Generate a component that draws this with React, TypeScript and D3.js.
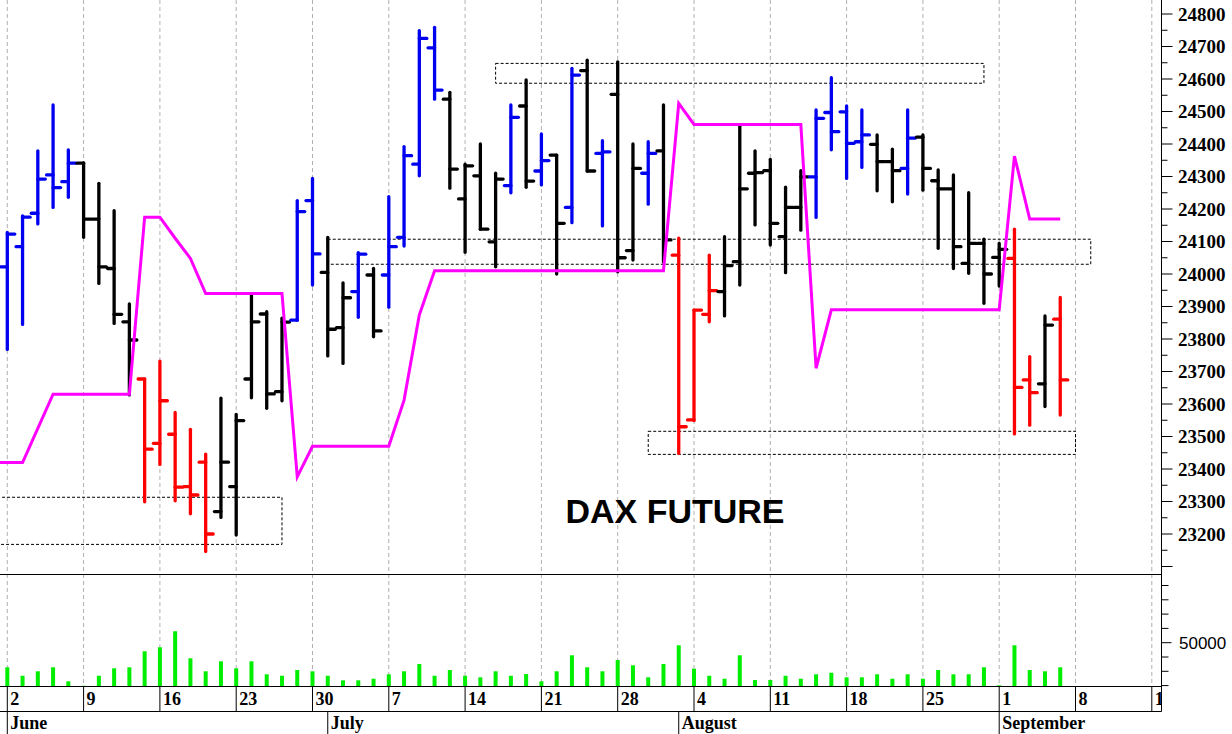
import React from "react";
import * as d3 from "d3";

const W = 1232;
const H = 734;

// Daily OHLC, trading days Jun 2 – Sep 5 (index 0 = Mon Jun 2)
const opens = [24022, 24084, 24187, 24305, 24284, 24341, 24169, 24017, 23853, 23677, 23479, 23507, 23346, 23421, 23269, 23346, 23677, 23877, 23638, 23858, 24226, 24005, 23835, 23946, 23997, 23997, 24113, 24338, 24696, 24538, 24231, 24302, 24099, 24272, 24517, 24317, 24366, 24205, 24626, 24371, 24553, 24072, 24310, 24379, 24058, 23551, 23876, 23946, 24038, 24310, 24318, 24115, 24205, 24299, 24497, 24499, 24407, 24399, 24346, 24325, 24421, 24287, 24262, 24033, 24094, 24051, 24048, 23674, 23662, 23861];
const highs = [24128, 24179, 24379, 24520, 24382, 24342, 24279, 24195, 23908, 23677, 23732, 23574, 23522, 23446, 23618, 23568, 23938, 23884, 23864, 24226, 24294, 24113, 23973, 24066, 24017, 24238, 24392, 24749, 24759, 24559, 24338, 24400, 24310, 24520, 24597, 24431, 24366, 24633, 24658, 24410, 24653, 24400, 24407, 24520, 24110, 23889, 24058, 24115, 24455, 24379, 24353, 24267, 24318, 24505, 24604, 24517, 24505, 24428, 24384, 24505, 24428, 24320, 24305, 24250, 24107, 24094, 24138, 23746, 23871, 23928];
const lows = [23768, 23845, 24154, 24205, 24236, 24113, 23971, 23848, 23628, 23299, 23414, 23302, 23262, 23146, 23251, 23197, 23619, 23587, 23610, 23858, 23966, 23748, 23725, 23867, 23807, 23898, 24086, 24302, 24538, 24264, 24067, 24138, 24022, 24250, 24267, 24274, 24000, 24158, 24317, 24148, 24007, 24043, 24215, 24037, 23448, 23549, 23853, 23871, 23966, 24151, 24089, 24004, 24135, 24174, 24382, 24294, 24328, 24256, 24222, 24246, 24258, 24079, 24017, 24002, 23910, 23963, 23508, 23535, 23592, 23566];
const closes = [24123, 24175, 24292, 24266, 24341, 24169, 24022, 23876, 23797, 23461, 23610, 23344, 23320, 23200, 23421, 23549, 23853, 23631, 23852, 24192, 24062, 23830, 23927, 24061, 23825, 24084, 24364, 24725, 24566, 24323, 24333, 24138, 24292, 24482, 24286, 24349, 24156, 24612, 24317, 24376, 24050, 24325, 24371, 24105, 23530, 23889, 23949, 24026, 24262, 24312, 24156, 24205, 24299, 24479, 24438, 24402, 24428, 24346, 24318, 24418, 24325, 24262, 24084, 24094, 24000, 24076, 23651, 23635, 23843, 23674];
// b = blue, k = black, r = red
const barColors = ["b","b","b","b","b","k","k","k","k","r","r","r","r","r","k","k","k","k","k","b","b","k","k","b","k","b","b","b","b","k","k","k","k","b","k","b","k","b","k","b","k","k","b","k","r","r","r","k","k","k","k","k","k","b","b","b","b","k","k","b","k","k","k","k","k","k","r","r","k","r"];
const volumes = [32800, 26900, 30000, 32800, 23000, 19900, 26900, 32100, 32800, 44000, 46800, 58000, 39100, 30000, 37000, 32100, 37000, 27900, 26900, 30900, 30000, 26900, 23700, 23700, 24800, 27900, 30000, 35100, 26900, 30900, 26900, 25800, 30000, 26900, 28100, 23000, 30000, 41200, 32800, 30000, 37900, 34200, 25800, 35100, 48200, 31800, 26900, 24800, 41200, 23900, 23900, 26900, 24800, 27900, 29000, 25800, 25800, 27900, 24800, 27900, 24800, 30900, 27900, 27900, 32800, 20200, 48200, 30900, 30000, 32800];
// magenta stop line (value for the day before index 0, then one per bar)
const magentaPrev = 23420;
const magenta = [23420, 23420, 23525, 23630, 23630, 23630, 23630, 23630, 23630, 24175, 24175, 24110, 24048, 23940, 23940, 23940, 23940, 23940, 23940, 23376, 23470, 23470, 23470, 23470, 23470, 23470, 23612, 23874, 24010, 24010, 24010, 24010, 24010, 24010, 24010, 24010, 24010, 24010, 24010, 24010, 24010, 24010, 24010, 24010, 24525, 24460, 24460, 24460, 24460, 24460, 24460, 24460, 24460, 23710, 23890, 23890, 23890, 23890, 23890, 23890, 23890, 23890, 23890, 23890, 23890, 23890, 24363, 24169, 24169, 24169];

// dotted zones (bar index from/to, price top/bottom)
const boxFrom = [-1, 32, 21, 42];
const boxTo = [18, 64, 71, 70];
const boxTop = [23313, 24648, 24107, 23516];
const boxBottom = [23168, 24587, 24030, 23445];

const weekLabels = ["2", "9", "16", "23", "30", "7", "14", "21", "28", "4", "11", "18", "25", "1", "8", "15"];
const monthLabels = ["June", "July", "August", "September"];
const monthStart = [0, 21, 44, 65];
const priceLabelValues = [23200, 23300, 23400, 23500, 23600, 23700, 23800, 23900, 24000, 24100, 24200, 24300, 24400, 24500, 24600, 24700, 24800];

const colorMap: Record<string, string> = { b: "#0000f0", k: "#000000", r: "#ff0000" };

export default function App() {
  const axisX = 1161.5;
  const priceBottom = 574.5;
  const volBottom = 686.5;
  const dateMid = 711.5;

  const x = d3.scaleLinear().domain([0, 75]).range([7.3, 1151.8]);
  const y = d3.scaleLinear().domain([23200, 24800]).range([534, 14]);
  const yv = d3.scaleLinear().domain([20000, 50000]).range([685.6, 642.7]);

  const priceTicks = d3.range(23100, 24851, 50);
  const volTicks = d3.range(20000, 90001, 10000);

  const magLine = d3
    .line<number>()
    .x((_, i) => x(i - 1))
    .y((d) => y(d));
  const magPath = magLine([magentaPrev, ...magenta]) || "";

  const mondays = weekLabels.map((_, k) => k * 5);

  const serif = "'Liberation Serif', 'Times New Roman', serif";
  const sans = "'Liberation Sans', Arial, sans-serif";

  return (
    <svg
      width={W}
      height={H}
      style={{ position: "absolute", left: 0, top: 0, background: "#fff" }}
      xmlns="http://www.w3.org/2000/svg"
    >
      <defs>
        <clipPath id="plotClip">
          <rect x={0} y={0} width={axisX} height={priceBottom} />
        </clipPath>
        <clipPath id="volClip">
          <rect x={0} y={priceBottom} width={axisX} height={volBottom - priceBottom} />
        </clipPath>
        <clipPath id="dateClip">
          <rect x={0} y={volBottom} width={axisX} height={H - volBottom} />
        </clipPath>
      </defs>
      <rect x={0} y={0} width={W} height={H} fill="#ffffff" />

      {/* vertical dashed grid at Mondays */}
      <g>
        {mondays.map((m) => (
          <line
            key={"g" + m}
            x1={x(m)}
            x2={x(m)}
            y1={0}
            y2={volBottom}
            stroke="#b0b0b0"
            strokeWidth={1}
            strokeDasharray="4,3"
          />
        ))}
      </g>

      {/* price panel */}
      <g clipPath="url(#plotClip)">
        {boxFrom.map((b, k) => (
          <rect
            key={"box" + k}
            x={x(b)}
            y={y(boxTop[k])}
            width={x(boxTo[k]) - x(b)}
            height={y(boxBottom[k]) - y(boxTop[k])}
            fill="none"
            stroke="#000"
            strokeWidth={1}
            strokeDasharray="3,2"
          />
        ))}
        {opens.map((o, i) => {
          const cx = x(i);
          const col = colorMap[barColors[i]];
          return (
            <g key={"bar" + i} stroke={col} strokeWidth={3.3} strokeLinecap="round">
              <line x1={cx} x2={cx} y1={y(highs[i])} y2={y(lows[i])} />
              <line x1={cx - 6.5} x2={cx} y1={y(o)} y2={y(o)} />
              <line x1={cx} x2={cx + 7.5} y1={y(closes[i])} y2={y(closes[i])} />
            </g>
          );
        })}
        <path d={magPath} fill="none" stroke="#ff00ff" strokeWidth={3} strokeLinejoin="miter" />
        <text
          x={675}
          y={523}
          textAnchor="middle"
          fontFamily={sans}
          fontWeight="bold"
          fontSize={34}
          fill="#000"
        >
          DAX FUTURE
        </text>
      </g>

      {/* panel separator */}
      <line x1={0} x2={axisX} y1={priceBottom} y2={priceBottom} stroke="#000" strokeWidth={1} />

      {/* volume panel */}
      <g clipPath="url(#volClip)">
        {volumes.map((v, i) => (
          <rect
            key={"v" + i}
            x={x(i) - 2}
            y={yv(v)}
            width={4}
            height={volBottom - yv(v)}
            fill="#00ee00"
          />
        ))}
      </g>

      {/* right axis */}
      <line x1={axisX} x2={axisX} y1={0} y2={dateMid} stroke="#000" strokeWidth={1} />
      {priceTicks.map((p) => (
        <line
          key={"pt" + p}
          x1={axisX}
          x2={axisX + (p % 100 === 0 ? 11 : 6)}
          y1={y(p)}
          y2={y(p)}
          stroke="#000"
          strokeWidth={1}
        />
      ))}
      {priceLabelValues.map((p) => (
        <text
          key={"pl" + p}
          x={1178}
          y={y(p)}
          dy="0.35em"
          fontFamily={serif}
          fontWeight="bold"
          fontSize={19}
          fill="#000"
        >
          {p}
        </text>
      ))}
      {volTicks.map((v) => (
        <line
          key={"vt" + v}
          x1={axisX}
          x2={axisX + (v === 50000 ? 10 : 7)}
          y1={yv(v)}
          y2={yv(v)}
          stroke="#000"
          strokeWidth={1}
        />
      ))}
      <text x={1179} y={yv(50000)} dy="0.36em" fontFamily={sans} fontSize={17} fill="#000">
        50000
      </text>

      {/* date axis */}
      <line x1={0} x2={axisX} y1={volBottom} y2={volBottom} stroke="#000" strokeWidth={1} />
      <line x1={0} x2={axisX} y1={dateMid} y2={dateMid} stroke="#000" strokeWidth={1} />
      <g clipPath="url(#dateClip)">
        {mondays.map((m, k) => (
          <g key={"d" + m}>
            <line x1={x(m)} x2={x(m)} y1={volBottom} y2={dateMid} stroke="#000" strokeWidth={1} />
            <text
              x={x(m) + 3}
              y={705}
              fontFamily={serif}
              fontWeight="bold"
              fontSize={18}
              fill="#000"
            >
              {weekLabels[k]}
            </text>
          </g>
        ))}
        {monthStart.map((m, k) => (
          <g key={"m" + m}>
            <line x1={x(m)} x2={x(m)} y1={dateMid} y2={H} stroke="#000" strokeWidth={1} />
            <text
              x={x(m) + 3}
              y={729}
              fontFamily={serif}
              fontWeight="bold"
              fontSize={18}
              fill="#000"
            >
              {monthLabels[k]}
            </text>
          </g>
        ))}
      </g>
    </svg>
  );
}
